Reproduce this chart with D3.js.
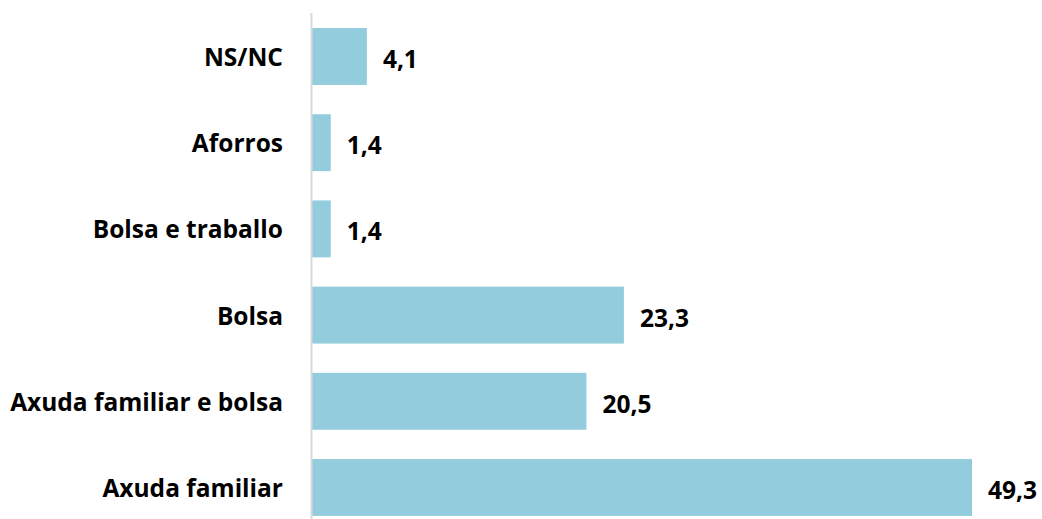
<!DOCTYPE html>
<html><head><meta charset="utf-8">
<script src="https://cdn.jsdelivr.net/npm/d3@7"></script>
<style>html,body{margin:0;padding:0;background:#fff;overflow:hidden}</style>
</head><body>
<svg id="c" width="1042" height="519"></svg>
<script>
const categories = ["NS/NC","Aforros","Bolsa e traballo","Bolsa","Axuda familiar e bolsa","Axuda familiar"];
const values = [4.1, 1.4, 1.4, 23.3, 20.5, 49.3];
const valueLabels = ["4,1","1,4","1,4","23,3","20,5","49,3"];

const svg = d3.select("#c");
const x0 = 312;
const x = d3.scaleLinear().domain([0, 49.3]).range([x0, 972]);
const y = d3.scaleBand().domain(categories).range([13.4, 530.6]).paddingInner(0.34).paddingOuter(0.17);
const font = "'Open Sans', sans-serif";

svg.selectAll("rect.bar").data(values).enter().append("rect")
  .attr("class","bar")
  .attr("x", x(0)).attr("y", (d,i)=>y(categories[i]))
  .attr("width", d=>x(d)-x(0)).attr("height", y.bandwidth())
  .attr("fill", "#93CDDD");

svg.append("line").attr("x1", x0-0.5).attr("x2", x0-0.5).attr("y1", 13).attr("y2", 519)
  .attr("stroke", "#d9d9d9").attr("stroke-width", 2);

svg.selectAll("text.cat").data(categories).enter().append("text")
  .attr("class","cat")
  .attr("x", 283).attr("y", d=>y(d)+y.bandwidth()/2)
  .attr("text-anchor","end").attr("dominant-baseline","central")
  .style("font-family", font).style("font-weight","700").style("font-size","24.5px").attr("fill","#000")
  .text(d=>d);

svg.selectAll("text.val").data(values).enter().append("text")
  .attr("class","val")
  .attr("x", d=>x(d)+16).attr("y", (d,i)=>y(categories[i])+y.bandwidth()/2+2)
  .attr("dominant-baseline","central")
  .style("font-family", font).style("font-weight","700").style("font-size","24.5px").attr("fill","#000")
  .text((d,i)=>valueLabels[i]);
</script>
</body></html>
